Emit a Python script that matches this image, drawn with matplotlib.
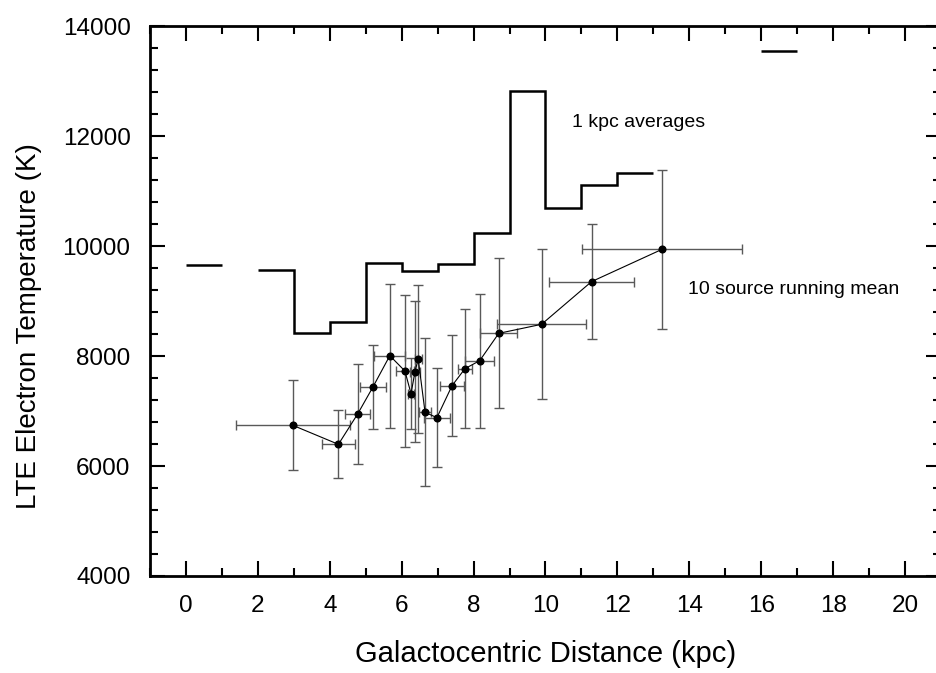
"""
LTE electron temperature vs galactocentric distance
"""
import matplotlib
matplotlib.use('Agg')
import matplotlib.pyplot as plt
from matplotlib.ticker import MultipleLocator

##1 kpc averages (bin edges 0..17 kpc, nan = empty bin)
bin_edges = [0, 1, 2, 3, 4, 5, 6, 7, 8, 9, 10, 11, 12, 13, 14, 15, 16, 17]
avg_temp = [9650, float('nan'), 9560, 8410, 8625, 9700, 9540, 9680, 10235,
            12820, 10685, 11115, 11335, float('nan'), float('nan'), float('nan'), 13540]

##10 source running mean
rgal = [2.97, 4.24, 4.78, 5.20, 5.67, 6.09, 6.26, 6.37, 6.46,
        6.65, 6.98, 7.40, 7.76, 8.17, 8.70, 9.89, 11.28, 13.24]
temp = [6740, 6394, 6951, 7436, 8006, 7727, 7315, 7715, 7945,
        6976, 6879, 7460, 7770, 7915, 8412, 8576, 9352, 9939]
temp_err = [815, 621, 912, 755, 1310, 1388, 648, 1280, 1350,
            1343, 897, 918, 1078, 1218, 1364, 1363, 1040, 1450]
rgal_err = [1.59, 0.47, 0.35, 0.35, 0.43, 0.26, 0.08, 0.14, 0.10,
            0.16, 0.35, 0.33, 0.20, 0.41, 0.51, 1.24, 1.18, 2.22]

plt.rcParams['font.family'] = ['Liberation Sans', 'DejaVu Sans']

fig = plt.figure(figsize=(9.37, 6.73), dpi=100)
ax = fig.add_axes([150/937, 97/673, 791/937, 550/673])

ax.stairs(avg_temp, bin_edges, baseline=None, color='k', lw=1.8)

ax.errorbar(rgal, temp, xerr=rgal_err, yerr=temp_err, fmt='none',
            ecolor='0.35', elinewidth=1.0, capsize=3.5, capthick=1.0, zorder=2)
ax.plot(rgal, temp, color='k', lw=0.8, marker='o', ms=4.8, zorder=3)

ax.text(10.73, 12160, '1 kpc averages', fontsize=14, ha='left', va='baseline')
ax.text(13.97, 9130, '10 source running mean', fontsize=14, ha='left', va='baseline')

ax.set_xlim(-1, 21)
ax.set_ylim(4000, 14000)
ax.xaxis.set_major_locator(MultipleLocator(2))
ax.xaxis.set_minor_locator(MultipleLocator(1))
ax.yaxis.set_major_locator(MultipleLocator(2000))
ax.yaxis.set_minor_locator(MultipleLocator(400))
ax.tick_params(which='both', direction='in', top=True, right=True, width=1.5)
ax.tick_params(which='major', length=11, labelsize=17.5)
ax.tick_params(which='minor', length=6)
ax.tick_params(axis='y', which='major', pad=14)
ax.tick_params(axis='x', which='major', pad=14)
for s in ax.spines.values():
    s.set_linewidth(2)

ax.set_xlabel('Galactocentric Distance (kpc)', fontsize=21, labelpad=16)
ax.set_ylabel('LTE Electron Temperature (K)', fontsize=20)
ax.yaxis.set_label_coords(-0.137, 0.455)

fig.savefig('out.png', dpi=100)
